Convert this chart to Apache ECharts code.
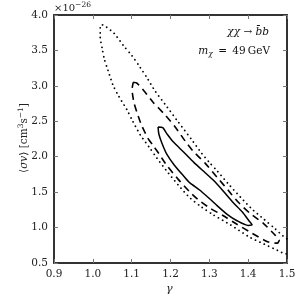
<!DOCTYPE html>
<html><head><meta charset="utf-8">
<script src="https://cdn.jsdelivr.net/npm/echarts@6/dist/echarts.min.js"></script>
<style>html,body{margin:0;padding:0;background:#fff}#c{width:300px;height:300px}</style>
</head><body><div id="c"></div>
<script>
// Contour levels (gamma, <sigma v> in units of 1e-26 cm^3/s)
const solidGamma = [1.168,1.18,1.19,1.207,1.233,1.26,1.29,1.31,1.335,1.36,1.385,1.403,1.41,1.40,1.37,1.345,1.32,1.30,1.275,1.25,1.235,1.21,1.19,1.178,1.17,1.168];
const solidSigma = [2.42,2.41,2.33,2.21,2.07,1.92,1.77,1.67,1.52,1.36,1.22,1.09,1.04,1.03,1.10,1.19,1.31,1.41,1.53,1.63,1.72,1.88,2.04,2.19,2.32,2.42];

const dashedGamma = [1.104,1.113,1.127,1.155,1.186,1.212,1.238,1.258,1.289,1.32,1.348,1.374,1.405,1.439,1.47,1.48,1.475,1.45,1.41,1.37,1.335,1.30,1.27,1.25,1.22,1.19,1.173,1.155,1.142,1.125,1.114,1.106,1.101,1.104];
const dashedSigma = [3.05,3.04,2.96,2.77,2.59,2.42,2.22,2.08,1.91,1.71,1.53,1.36,1.20,1.06,0.89,0.82,0.78,0.80,0.92,1.05,1.17,1.28,1.40,1.50,1.68,1.88,2.02,2.16,2.26,2.45,2.62,2.76,2.95,3.05];

const dottedGamma = [1.025,1.035,1.055,1.08,1.10,1.122,1.14,1.16,1.186,1.22,1.256,1.28,1.30,1.32,1.35,1.38,1.41,1.44,1.47,1.49,1.505,1.52,1.51,1.497,1.475,1.44,1.405,1.354,1.31,1.28,1.25,1.22,1.19,1.165,1.147,1.122,1.101,1.088,1.065,1.052,1.039,1.029,1.024,1.019,1.019,1.025];
const dottedSigma = [3.86,3.83,3.74,3.56,3.43,3.26,3.11,2.93,2.74,2.49,2.23,2.05,1.92,1.80,1.61,1.43,1.26,1.12,0.98,0.88,0.82,0.75,0.64,0.63,0.68,0.77,0.86,1.04,1.18,1.29,1.42,1.60,1.80,1.98,2.12,2.31,2.52,2.66,2.87,3.01,3.22,3.39,3.53,3.69,3.83,3.86];

const xTicks = [0.9,1.0,1.1,1.2,1.3,1.4,1.5];
const yTicks = [0.5,1.0,1.5,2.0,2.5,3.0,3.5,4.0];

const zip = (a,b) => a.map((v,i)=>[v,b[i]]);
const serif = '"DejaVu Serif","Liberation Serif",serif';
const frame = '#333';

const chart = echarts.init(document.getElementById('c'), null, {renderer:'canvas'});
const axisCommon = {
  type:'value',
  axisLine:{show:true,onZero:false,lineStyle:{color:frame,width:2}},
  axisTick:{show:true,inside:true,length:4,lineStyle:{color:'#777',width:1}},
  splitLine:{show:false},
  axisLabel:{fontFamily:serif,fontSize:10.5,color:'#222'}
};
chart.setOption({
  animation:false,
  grid:{left:54,right:13,top:15,bottom:37},
  xAxis:[
    Object.assign({},axisCommon,{position:'bottom',min:xTicks[0],max:xTicks[xTicks.length-1],interval:0.1,
      axisLabel:Object.assign({},axisCommon.axisLabel,{margin:6,formatter:v=>v.toFixed(1)})}),
    Object.assign({},axisCommon,{position:'top',min:xTicks[0],max:xTicks[xTicks.length-1],interval:0.1,axisLabel:{show:false}})
  ],
  yAxis:[
    Object.assign({},axisCommon,{position:'left',min:yTicks[0],max:yTicks[yTicks.length-1],interval:0.5,
      axisLabel:Object.assign({},axisCommon.axisLabel,{margin:6,formatter:v=>v.toFixed(1)})}),
    Object.assign({},axisCommon,{position:'right',min:yTicks[0],max:yTicks[yTicks.length-1],interval:0.5,axisLabel:{show:false}})
  ],
  series:[
    {type:'line',data:zip(dottedGamma,dottedSigma),showSymbol:false,smooth:0.25,clip:true,
      lineStyle:{color:'#000',width:1.8,type:[0.01,4.8],cap:'round'}},
    {type:'line',data:zip(dashedGamma,dashedSigma),showSymbol:false,smooth:0.2,clip:true,
      lineStyle:{color:'#000',width:1.6,type:[7,5]}},
    {type:'line',data:zip(solidGamma,solidSigma),showSymbol:false,smooth:0.25,clip:true,
      lineStyle:{color:'#000',width:1.5,type:'solid'}}
  ],
  graphic:[
    {type:'text',left:54,top:1,style:{text:'×10{s|−26}',fontFamily:serif,fontSize:10,fill:'#222',
      rich:{s:{fontSize:7.5,verticalAlign:'top',padding:[0,0,6,0],fontFamily:serif}}}},
    {type:'text',right:31,top:27,style:{text:'{i|χχ} → {i|b̄b}',fontFamily:serif,fontSize:10.5,fill:'#111',
      rich:{i:{fontStyle:'italic',fontFamily:serif,fontSize:10.5}}}},
    {type:'text',right:30,top:46,style:{text:'{i|m}{sub|χ}\u2009 = \u200949\u2009GeV',fontFamily:serif,fontSize:10.5,fill:'#111',
      rich:{i:{fontStyle:'italic',fontFamily:serif,fontSize:10.5},sub:{fontStyle:'italic',fontFamily:serif,fontSize:7.5,padding:[6,0,0,0]}}}},
    {type:'text',left:166,top:284,style:{text:'γ',fontFamily:serif,fontStyle:'italic',fontSize:11,fill:'#222'}},
    {type:'text',x:24,y:138,rotation:Math.PI/2,style:{text:'⟨{i|σv}⟩ [cm{s|3}s{s|−1}]',fontFamily:serif,fontSize:10.5,fill:'#222',align:'center',verticalAlign:'middle',
      rich:{i:{fontStyle:'italic',fontFamily:serif,fontSize:10.5},s:{fontFamily:serif,fontSize:7.5,padding:[0,0,6,0]}}}}
  ]
});
</script></body></html>
